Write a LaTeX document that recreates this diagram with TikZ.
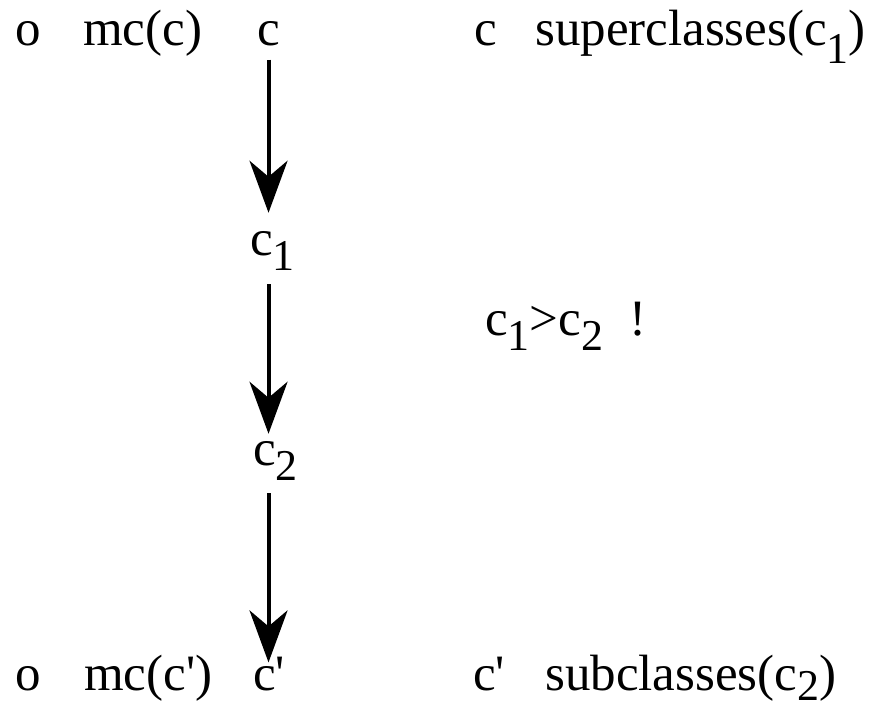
\documentclass[tikz,border=0pt]{standalone}
\usepackage{fontspec}
\setmainfont{Liberation Serif}
\usetikzlibrary{arrows.meta}
\newcommand\sbs[2][15pt]{\raisebox{-#1}{\fontsize{44}{44}\selectfont #2}}
\begin{document}
\begin{tikzpicture}[x=1pt,y=-1pt,
  lbl/.style={anchor=base west,inner sep=0pt,font=\fontsize{51}{51}\selectfont},
  arr/.style={line width=4pt,-{Stealth[length=52pt,width=38pt,inset=16pt]}}]
\useasboundingbox (0,0) rectangle (876,709);
% top row
\node[lbl] (o1) at (15,46) {o};
\node[lbl] (mc1) at (83,46) {mc(c)};
\node[lbl] (ctop) at (257,46) {c};
\node[lbl] (cr1) at (474,46) {c};
\node[lbl] (sup) at (535,46) {superclasses(c\sbs[18pt]{1})};
% middle
\node[lbl] (c1) at (250,255) {c\sbs{1}};
\node[lbl] (cmp) at (485,335) {c\sbs{1}>c\sbs{2}\hspace{26pt}!};
\node[lbl] (c2) at (253,465) {c\sbs{2}};
% bottom row
\node[lbl] (o2) at (15,690) {o};
\node[lbl] (mc2) at (84,690) {mc(c\textquotesingle)};
\node[lbl] (cbot) at (253,690) {c\textquotesingle};
\node[lbl] (cr2) at (473,690) {c\textquotesingle};
\node[lbl] (sub) at (545,690) {subclasses(c\sbs[10pt]{2})};
% arrows
\draw[arr,shorten <=13pt,shorten >=18pt] (ctop.south) -- (ctop.south |- c1.north);
\draw[arr,shorten <=14pt,shorten >=7pt] (ctop.south |- c1.south) -- (ctop.south |- c2.north);
\draw[arr,shorten <=13pt,shorten >=-6pt] (ctop.south |- c2.south) -- (ctop.south |- cbot.north);
\end{tikzpicture}
\end{document}
